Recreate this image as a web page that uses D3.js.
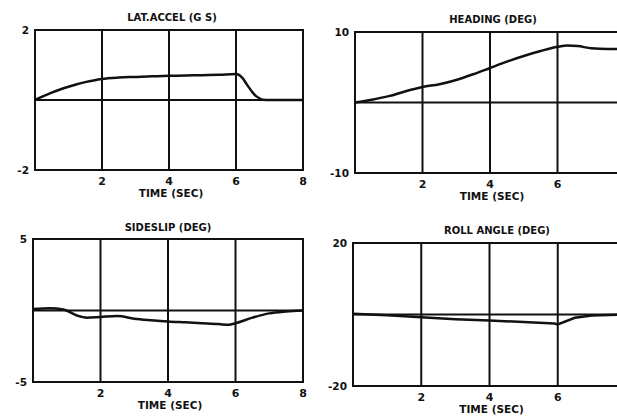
<!DOCTYPE html>
<html>
<head>
<meta charset="utf-8">
<script src="https://cdn.jsdelivr.net/npm/d3@7"></script>
<style>
  body { margin: 0; background: #fff; }
  svg { display: block; }
  text { font-family: "DejaVu Sans", sans-serif; font-weight: bold; fill: #111; }
</style>
</head>
<body>
<div id="chart"></div>
<script>
const W = 617, H = 416;

// time values (sec)
const latTime = [0, 0.25, 0.5, 0.75, 1, 1.25, 1.5, 1.75, 2, 2.5, 3, 3.5, 4, 4.5, 5, 5.5, 6, 6.1, 6.2, 6.3, 6.4, 6.5, 6.6, 6.7, 6.8, 7, 8];
const latAccel = [0, 0.11, 0.21, 0.3, 0.38, 0.45, 0.51, 0.56, 0.6, 0.64, 0.66, 0.68, 0.69, 0.7, 0.71, 0.72, 0.74, 0.71, 0.62, 0.48, 0.34, 0.21, 0.11, 0.05, 0.01, 0, 0];

const headTime = [0, 0.5, 1, 1.5, 2, 2.5, 3, 3.5, 4, 4.5, 5, 5.5, 6, 6.3, 6.6, 7, 7.5, 8];
const heading = [0, 0.4, 0.9, 1.6, 2.2, 2.6, 3.2, 4.0, 4.9, 5.8, 6.6, 7.3, 7.9, 8.1, 8.0, 7.7, 7.6, 7.6];

const slipTime = [0, 0.5, 0.9, 1.3, 1.6, 2, 2.5, 3, 3.5, 4, 4.5, 5, 5.5, 5.8, 6, 6.5, 7, 7.5, 8];
const sideslip = [0.1, 0.15, 0.07, -0.35, -0.5, -0.45, -0.39, -0.57, -0.68, -0.77, -0.83, -0.89, -0.95, -1.0, -0.89, -0.5, -0.2, -0.07, 0];

const rollTime = [0, 1, 2, 3, 4, 5, 5.9, 6, 6.5, 7, 8];
const rollAngle = [0.2, -0.2, -0.75, -1.3, -1.7, -2.1, -2.5, -2.8, -0.9, -0.3, 0];

const gridTicks = [2, 4, 6];
const xTickLabels = [2, 4, 6, 8];

const panels = [
  { title: "LAT.ACCEL (G S)", t: latTime, v: latAccel, yMax: 2, yLabels: ["2", "-2"],
    left: 35, right: 303, top: 30, bottom: 170, titleX: 172, titleY: 21, curve: d3.curveMonotoneX },
  { title: "HEADING (DEG)", t: headTime, v: heading, yMax: 10, yLabels: ["10", "-10"],
    left: 355, right: 625, top: 32, bottom: 173, titleX: 493, titleY: 23, curve: d3.curveMonotoneX },
  { title: "SIDESLIP (DEG)", t: slipTime, v: sideslip, yMax: 5, yLabels: ["5", "-5"],
    left: 33, right: 303, top: 239, bottom: 382, titleX: 168, titleY: 231, curve: d3.curveMonotoneX },
  { title: "ROLL ANGLE (DEG)", t: rollTime, v: rollAngle, yMax: 20, yLabels: ["20", "-20"],
    left: 353, right: 626, top: 243, bottom: 386, titleX: 497, titleY: 234, curve: d3.curveLinear }
];

const svg = d3.select("#chart").append("svg")
  .attr("width", W)
  .attr("height", H)
  .attr("viewBox", [0, 0, W, H]);

panels.forEach(p => {
  const x = d3.scaleLinear().domain([0, 8]).range([p.left, p.right]);
  const y = d3.scaleLinear().domain([-p.yMax, p.yMax]).range([p.bottom, p.top]);
  const g = svg.append("g");

  // frame
  g.append("rect")
    .attr("x", x(0)).attr("y", y(p.yMax))
    .attr("width", x(8) - x(0)).attr("height", y(-p.yMax) - y(p.yMax))
    .attr("fill", "none").attr("stroke", "#111").attr("stroke-width", 2);

  // vertical grid
  g.selectAll("line.grid").data(gridTicks).join("line")
    .attr("class", "grid")
    .attr("x1", d => x(d)).attr("x2", d => x(d))
    .attr("y1", y(p.yMax)).attr("y2", y(-p.yMax))
    .attr("stroke", "#111").attr("stroke-width", 2);

  // zero line
  g.append("line")
    .attr("x1", x(0)).attr("x2", x(8))
    .attr("y1", y(0)).attr("y2", y(0))
    .attr("stroke", "#111").attr("stroke-width", 2);

  // trace
  const line = d3.line()
    .x((d, i) => x(p.t[i]))
    .y(d => y(d))
    .curve(p.curve);
  g.append("path")
    .attr("d", line(p.v))
    .attr("fill", "none").attr("stroke", "#111").attr("stroke-width", 2.5);

  // title
  g.append("text")
    .attr("x", p.titleX).attr("y", p.titleY)
    .attr("text-anchor", "middle")
    .style("font-size", "10px")
    .text(p.title);

  // y labels
  g.selectAll("text.ylab").data([p.yMax, -p.yMax]).join("text")
    .attr("class", "ylab")
    .attr("x", x(0) - 6).attr("y", d => y(d) + 4)
    .attr("text-anchor", "end")
    .style("font-size", "10.5px")
    .text((d, i) => p.yLabels[i]);

  // x labels (those beyond the page edge are cut off in the scan)
  g.selectAll("text.xlab").data(xTickLabels.filter(d => x(d) < W - 6)).join("text")
    .attr("class", "xlab")
    .attr("x", d => x(d)).attr("y", y(-p.yMax) + 15)
    .attr("text-anchor", "middle")
    .style("font-size", "11px")
    .text(d => d);

  g.append("text")
    .attr("x", (x(0) + x(8)) / 2 + 2).attr("y", y(-p.yMax) + 27)
    .attr("text-anchor", "middle")
    .style("font-size", "10.5px")
    .text("TIME (SEC)");
});
</script>
</body>
</html>
